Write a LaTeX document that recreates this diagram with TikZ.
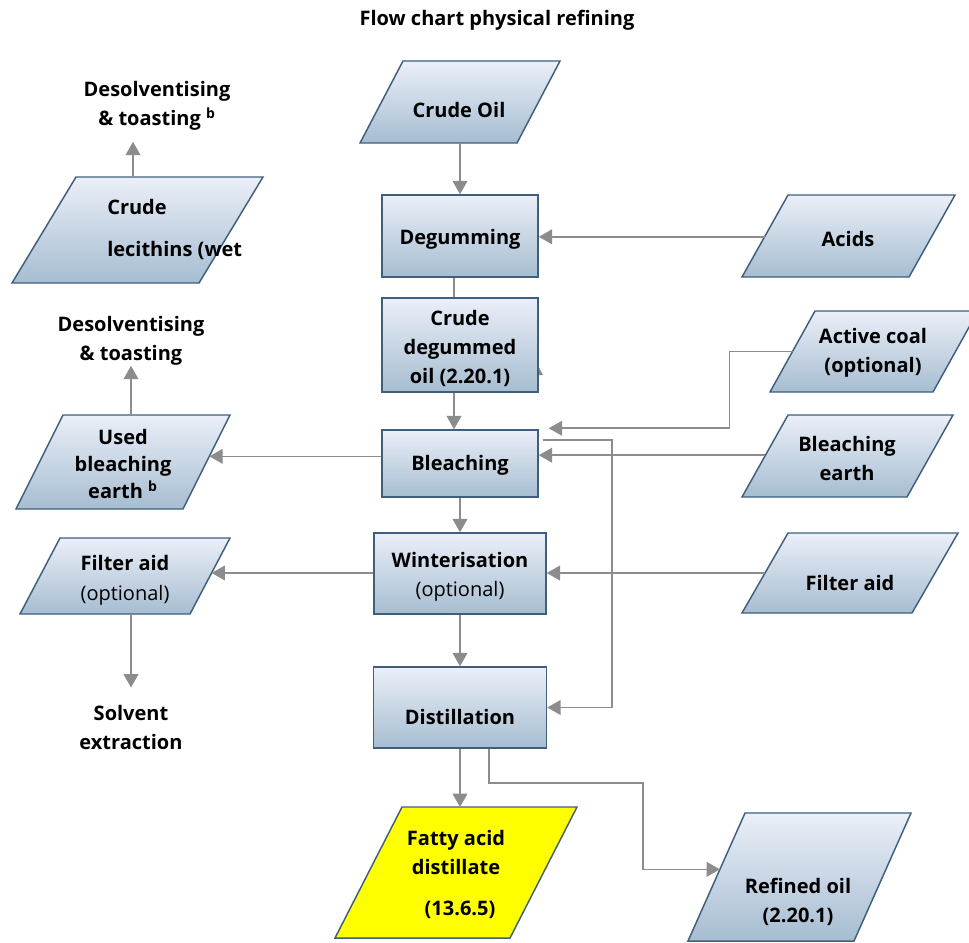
\documentclass[tikz,border=0pt]{standalone}
\usepackage{fontspec}
\setmainfont{Open Sans}
\usetikzlibrary{calc,arrows.meta}

\definecolor{boxtop}{HTML}{EBEFF8}
\definecolor{boxbot}{HTML}{A6BDD1}
\definecolor{boxedge}{HTML}{3F5F7D}
\definecolor{flowgrey}{HTML}{8C8C8C}
\definecolor{hilite}{HTML}{FFFF00}

% one drawing unit = one pixel of the layout grid
\newcommand\pxu{0.75pt}

% input/output parallelogram: name, top-left x, top-left y, top width, height, slant, style
\newcommand\iobox[7]{%
  \coordinate (#1-tl) at (#2,#3);
  \coordinate (#1-tr) at ({#2+#4},#3);
  \coordinate (#1-br) at ({#2+#4-#6},{#3+#5});
  \coordinate (#1-bl) at ({#2-#6},{#3+#5});
  \path[#7] (#1-tl) -- (#1-tr) -- (#1-br) -- (#1-bl) -- cycle;
  \node[inner sep=0pt, outer sep=0pt, minimum width={(#4+#6)*\pxu},
        minimum height={#5*\pxu}] (#1) at ({#2+(#4-#6)/2},{#3+#5/2}) {};
}

\tikzset{
  shaded/.style={draw=boxedge, line width=1.1pt, top color=boxtop, bottom color=boxbot},
  yellowfill/.style={draw=boxedge, line width=1.1pt, fill=hilite},
  procbox/.style={shaded, rectangle, inner sep=0pt},
  lbl/.style={font=\bfseries\fontsize{15}{21.75}\selectfont, align=center, inner sep=0pt},
  ln/.style={draw=flowgrey, line width=1.2pt},
  arr/.style={ln, -{Triangle[length=10pt,width=11pt]}},
}

\begin{document}
\begin{tikzpicture}[x=\pxu, y=-\pxu]
\useasboundingbox (0,0) rectangle (969,942);

% title
\node[font=\bfseries\fontsize{15}{18}\selectfont, inner sep=0pt] (title) at (497,20) {Flow chart physical refining};

% arrow tip partly hidden behind the degummed-oil box
\fill[flowgrey] (536,362) -- (543,375) -- (529,375) -- cycle;

% process steps
\node[procbox, minimum width=156*\pxu, minimum height=82*\pxu] (degum) at (460,236) {};
\node[procbox, minimum width=156*\pxu, minimum height=94*\pxu] (cdo) at (460,345) {};
\node[procbox, minimum width=156*\pxu, minimum height=67*\pxu] (bleach) at (460,463.5) {};
\node[procbox, minimum width=172*\pxu, minimum height=81*\pxu] (wint) at (460,573.5) {};
\node[procbox, minimum width=173*\pxu, minimum height=81*\pxu] (distil) at (460,707.5) {};

\node[lbl] (degumT) at (460,239) {Degumming};
\node[lbl] (cdoT) at (460,348) {Crude\\degummed\\oil (2.20.1)};
\node[lbl] (bleachT) at (460,465) {Bleaching};
\node[lbl] (wintT) at (460,576.5) {Winterisation\\\mdseries(optional)};
\node[lbl] (distilT) at (460,717) {Distillation};

% inputs and outputs
\iobox{co}{403}{61}{157}{82}{43}{shaded}
\iobox{acids}{788}{195}{167}{82}{46}{shaded}
\iobox{ac}{815}{311}{163}{81}{45}{shaded}
\iobox{be}{788}{415}{165}{82}{46}{shaded}
\iobox{far}{788}{533}{170}{80}{46}{shaded}
\iobox{cl}{76}{177}{187}{106}{64}{shaded}
\iobox{ub}{63}{415}{167}{94}{47}{shaded}
\iobox{fal}{60}{538}{170}{76}{40}{shaded}
\iobox{fad}{402}{807}{175}{131}{67}{yellowfill}
\iobox{ro}{745}{813}{166}{128}{57}{shaded}

\node[lbl] (coT) at (459,110) {Crude Oil};
\node[lbl] (acidsT) at (848,239) {Acids};
\node[lbl] (acT) at (873,353) {Active coal\\(optional)};
\node[lbl] (beT) at (847,458) {Bleaching\\earth};
\node[lbl] (farT) at (850,583) {Filter aid};
\node[lbl, align=left, anchor=west] (clT) at (107,229) {Crude\\[9.75pt]lecithins (wet};
\node[lbl, font=\bfseries\fontsize{15}{20.5}\selectfont] (ubT) at (123,464) {Used\\bleaching\\earth \textsuperscript{b}};
\node[lbl, font=\bfseries\fontsize{15}{22.5}\selectfont] (falT) at (125,580) {Filter aid\\\mdseries(optional)};
\node[lbl] (fadT) at (456,874) {Fatty acid\\distillate\\[9pt]\hspace*{6pt}(13.6.5)};
\node[lbl] (roT) at (798,902) {Refined oil\\(2.20.1)};

% destinations of by-products
\node[lbl] (ds1) at (157,106) {Desolventising\\\& toasting \textsuperscript{b}};
\node[lbl] (ds2) at (131,341) {Desolventising\\\& toasting};
\node[lbl] (se) at (131,727) {Solvent\\extraction};

% main line
\draw[arr] (co.south) -- (degum.north);
\draw[ln] ([shift={(-6,0)}]degum.south) -- ([shift={(-6,0)}]cdo.north);
\draw[arr] ([shift={(-6,0)}]cdo.south) -- ([shift={(-6,0)}]bleach.north);
\draw[arr] (bleach.south) -- (wint.north);
\draw[arr] (wint.south) -- (distil.north);
\draw[arr] (distil.south) -- (distil.south |- fad.north);

% additions from the right
\coordinate (acidsL) at ($(acids-tl)!.51!(acids-bl)$);
\draw[arr] (acidsL) -- (acidsL -| degum.east);
\coordinate (acL) at ($(ac-tl)!.5!(ac-bl)$);
\draw[arr] (acL) -- ++(-63,0) |- ([shift={(10,-1)}]bleach.north east);
\coordinate (beL) at ($(be-tl)!.49!(be-bl)$);
\draw[arr] (beL) -- (beL -| bleach.east);
\coordinate (farL) at ($(far-tl)!.5!(far-bl)$);
\draw[arr] (farL) -- (farL -| wint.east);

% bleached oil may bypass winterisation
\draw[arr] ([shift={(4,11)}]bleach.north east) -- ++(69,0) |- (distil.east);

% refined oil
\coordinate (roL) at ($(ro-tl)!.44!(ro-bl)$);
\draw[arr] ([shift={(29,0)}]distil.south) -- ++(0,34) -| ([shift={(-77,0)}]roL) -- (roL);

% by-products to the left
\coordinate (ubR) at ($(ub-tr)!.44!(ub-br)$);
\draw[arr] (ubR -| bleach.west) -- (ubR);
\coordinate (falR) at ($(fal-tr)!.46!(fal-br)$);
\draw[arr] (falR -| wint.west) -- (falR);
\draw[arr, shorten >=11*\pxu] ([shift={(-4.5,0)}]cl.north) -- ([shift={(-4.5,0)}]cl.north |- ds1.south);
\draw[arr] (ds2.south |- ub.north) -- (ds2.south);
\draw[arr, shorten >=17*\pxu] (se.north |- fal.south) -- (se.north);
\end{tikzpicture}
\end{document}
